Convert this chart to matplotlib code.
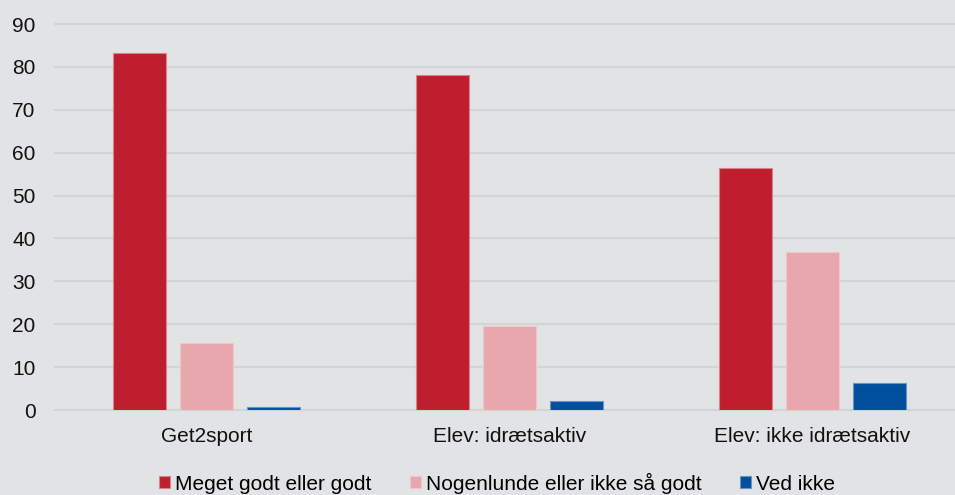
import matplotlib
matplotlib.use("Agg")
import matplotlib.pyplot as plt
import numpy as np

categories = ["Get2sport", "Elev: idrætsaktiv", "Elev: ikke idrætsaktiv"]
series_names = ["Meget godt eller godt", "Nogenlunde eller ikke så godt", "Ved ikke"]
meget_godt = [83.3, 78.1, 56.4]
nogenlunde = [15.6, 19.6, 36.8]
ved_ikke = [0.7, 2.1, 6.3]
yticks = [0, 10, 20, 30, 40, 50, 60, 70, 80, 90]

colors = ["#BE1E2D", "#E8A7AD", "#00509E"]
edges = ["#D9838B", "#EFC6CA", "#6A93C0"]
bg = "#E2E3E5"

plt.rcParams["font.family"] = ["Liberation Sans", "DejaVu Sans"]

fig = plt.figure(figsize=(9.55, 4.95), dpi=100)
fig.patch.set_facecolor(bg)
ax = fig.add_axes([55 / 955, 85 / 495, 909 / 955, 386 / 495])
ax.set_facecolor(bg)

x = np.arange(len(categories))
w = 0.175
step = 0.22
for i, (vals, name) in enumerate(zip([meget_godt, nogenlunde, ved_ikke], series_names)):
    ax.bar(x + (i - 1) * step, vals, width=w, color=colors[i], edgecolor=edges[i],
           linewidth=0.8, label=name, zorder=3)

ax.set_xlim(-0.5, 2.5)
ax.set_ylim(0, 90)
ax.set_yticks(yticks)
ax.set_yticklabels([str(t) for t in yticks])
ax.set_xticks(x)
ax.set_xticklabels(categories)
ax.tick_params(axis="both", length=0, labelsize=15, colors="#111111")
ax.tick_params(axis="y", pad=14)
ax.tick_params(axis="x", pad=12)
ax.grid(axis="y", color="#D3D4D6", linewidth=1.6, zorder=0)
for gl in ax.get_ygridlines():
    gl.set_clip_on(False)
for s in ax.spines.values():
    s.set_visible(False)

leg = fig.legend(loc="center", bbox_to_anchor=(0.5204, 0.024), ncol=3, frameon=False,
                 fontsize=15, handlelength=0.5, handleheight=0.5, handletextpad=0.24,
                 columnspacing=1.87, borderaxespad=0, borderpad=0)

fig.savefig("out.png", dpi=100, facecolor=bg)
